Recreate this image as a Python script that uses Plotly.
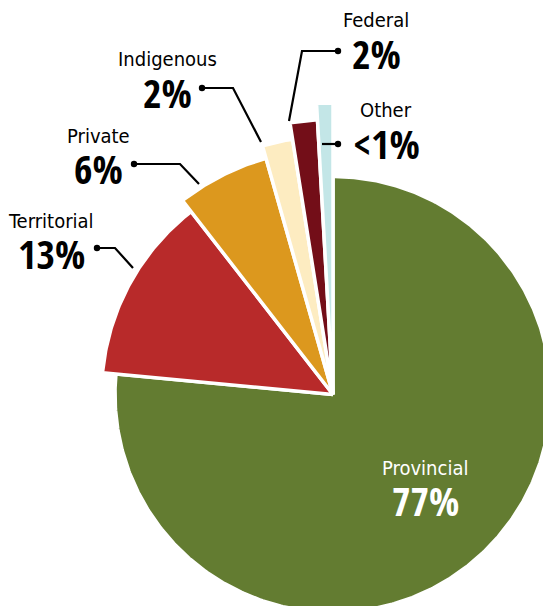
import math
import plotly.graph_objects as go

# ---- data ----
categories = ["Provincial", "Territorial", "Private", "Indigenous", "Federal", "Other"]
values = [76.5, 13.0, 6.1, 1.9, 1.6, 0.9]
value_labels = ["77%", "13%", "6%", "2%", "2%", "<1%"]

# ---- style ----
colors = ["#637c31", "#b82a2a", "#dc981e", "#fdecc1", "#730e18", "#c3e6e7"]
radii = [218, 231.5, 245.5, 258.5, 275, 291.5]   # slices grow outward (design)
NAME_FONT = "DejaVu Sans Condensed, Roboto, sans-serif"
VALUE_FONT = "Open Sans Condensed, DejaVu Sans Condensed, sans-serif"

W, H = 543, 606
CX, CY = 333, 394.5  # pie centre in page pixels


def P(x, y):
    """page pixel -> data coords (1 unit = 1 px, centre at origin, y up)"""
    return x - CX, CY - y


fig = go.Figure()

total = sum(values)
start = 0.0
for name, v, col, r in zip(categories, values, colors, radii):
    span = v / total * 360.0
    n = max(6, int(span * 2))
    xs, ys = [0.0], [0.0]
    for i in range(n + 1):
        a = math.radians(start + span * i / n)
        xs.append(r * math.sin(a))
        ys.append(r * math.cos(a))
    xs.append(0.0)
    ys.append(0.0)
    fig.add_trace(go.Scatter(
        x=xs, y=ys, mode="lines", fill="toself", fillcolor=col,
        line=dict(color="white", width=3.5), name=name,
        hoverinfo="text", text=f"{name}: {v}%", showlegend=False))
    start += span

# ---- labels (name + value) ----
label_pos = {
    "Provincial": (425, 468, 500, "white"),
    "Territorial": (51, 221, 253, "black"),
    "Private": (98, 136, 168, "black"),
    "Indigenous": (167, 59, 92, "black"),
    "Federal": (376, 20, 53, "black"),
    "Other": (386, 110, 143, "black"),
}
for name, lab in zip(categories, value_labels):
    x, yn, yv, c = label_pos[name]
    ax, ay = P(x, yn)
    fig.add_annotation(x=ax, y=ay, text=name, showarrow=False,
                       font=dict(family=NAME_FONT, size=20, color=c),
                       xanchor="center", yanchor="middle")
    bx, by = P(x, yv)
    fig.add_annotation(x=bx, y=by, text=f"<b>{lab}</b>", showarrow=False,
                       font=dict(family=VALUE_FONT, size=40, color=c),
                       xanchor="center", yanchor="middle")

# ---- leader lines ----
leaders = [
    [(97, 248), (115, 248), (133, 268)],      # Territorial
    [(134, 164), (180, 164), (199, 184)],     # Private
    [(202, 88), (233, 88), (261, 142)],       # Indigenous
    [(338, 51), (302, 51), (289, 121)],       # Federal
    [(338, 144), (322, 144)],                 # Other
]
for pts in leaders:
    d = []
    for i, (x, y) in enumerate(pts):
        dx, dy = P(x, y)
        d.append(("M" if i == 0 else "L") + f"{dx},{dy}")
    fig.add_shape(type="path", path=" ".join(d), xref="x", yref="y",
                  line=dict(color="black", width=2.2))
    dx, dy = P(*pts[0])
    fig.add_shape(type="circle", xref="x", yref="y",
                  x0=dx - 3.2, x1=dx + 3.2, y0=dy - 3.2, y1=dy + 3.2,
                  fillcolor="black", line=dict(width=0))

x0, y1 = P(0, 0)
x1, y0 = P(W, H)
fig.update_layout(
    width=W, height=H, autosize=False,
    margin=dict(l=0, r=0, t=0, b=0),
    paper_bgcolor="white", plot_bgcolor="white",
    xaxis=dict(range=[x0, x1], visible=False, fixedrange=True),
    yaxis=dict(range=[y0, y1], visible=False, fixedrange=True),
    showlegend=False,
)

fig.write_html("out.html", config={"displayModeBar": False},
               post_script="document.body.style.margin='0';document.body.style.overflow='hidden';")
